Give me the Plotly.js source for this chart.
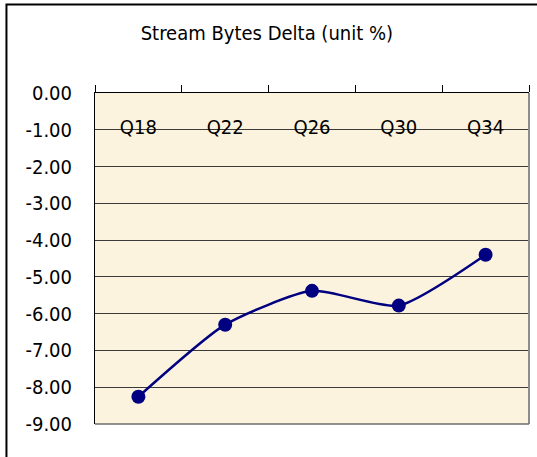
<!DOCTYPE html>
<html>
<head>
<meta charset="utf-8">
<script src="https://cdn.plot.ly/plotly-3.0.1.min.js"></script>
<style>
html,body{margin:0;padding:0;background:#fff;}
#chart{width:537px;height:457px;}
</style>
</head>
<body>
<div id="chart"></div>
<script>
const categories = ["Q18", "Q22", "Q26", "Q30", "Q34"];
const deltaValues = [-8.26, -6.30, -5.38, -5.78, -4.40];
const yTickVals = [0, -1, -2, -3, -4, -5, -6, -7, -8, -9];
const yTickText = ["0.00", "-1.00", "-2.00", "-3.00", "-4.00", "-5.00", "-6.00", "-7.00", "-8.00", "-9.00"];
const chartTitle = "Stream Bytes Delta (unit %)";

const FONT = "DejaVu Sans Condensed, DejaVu Sans, sans-serif";

const trace = {
  x: categories,
  y: deltaValues,
  type: "scatter",
  mode: "lines+markers",
  line: {color: "#000080", width: 2.5, shape: "spline", smoothing: 0.6},
  marker: {color: "#000080", size: 14},
  hoverinfo: "skip"
};

const layout = {
  width: 537, height: 457,
  margin: {l: 95, r: 8, t: 93, b: 33},
  paper_bgcolor: "#ffffff",
  plot_bgcolor: "#fcf3de",
  showlegend: false,
  font: {family: FONT, size: 20, color: "#000"},
  title: {
    text: chartTitle,
    font: {family: FONT, size: 20, color: "#000"},
    xref: "container", x: 0.497, xanchor: "center",
    yref: "container", y: 0.928, yanchor: "middle"
  },
  xaxis: {
    type: "category",
    side: "top",
    range: [-0.5, 4.5],
    showline: true, linecolor: "#000", linewidth: 1,
    ticks: "outside", ticklen: 7, tickcolor: "#000", tickwidth: 1,
    tickson: "boundaries",
    ticklabelstandoff: -50,
    showgrid: false, zeroline: false,
    tickfont: {family: FONT, size: 20, color: "#000"}
  },
  yaxis: {
    range: [-9, 0],
    tickvals: yTickVals,
    ticktext: yTickText,
    showline: true, linecolor: "#000", linewidth: 1,
    ticks: "outside", ticklen: 0,
    ticklabelstandoff: 18,
    showgrid: true, gridcolor: "#3a3a3a", gridwidth: 1,
    zeroline: false,
    tickfont: {family: FONT, size: 20, color: "#000"}
  },
  shapes: [
    {type: "line", xref: "paper", yref: "paper", x0: 1, x1: 1, y0: 0, y1: 1,
     line: {color: "#8c8c8c", width: 2}},
    {type: "line", xref: "paper", yref: "paper", x0: 0, x1: 1, y0: 0, y1: 0,
     line: {color: "#6e6e6e", width: 1.5}},
    {type: "path", xref: "paper", yref: "paper",
     path: "M -0.204 -0.2 L -0.204 1.267 L 1.1 1.267",
     line: {color: "#000", width: 2}}
  ]
};

Plotly.newPlot("chart", [trace], layout, {displayModeBar: false, staticPlot: true});
</script>
</body>
</html>
